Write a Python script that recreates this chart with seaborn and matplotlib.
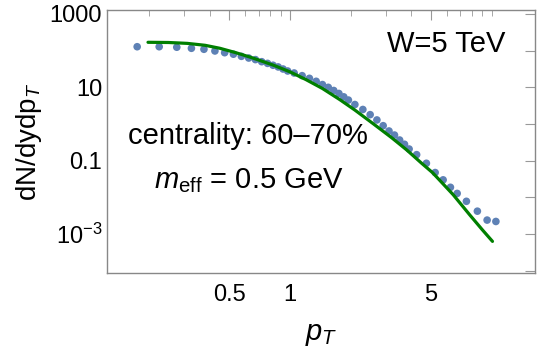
import numpy as np
import pandas as pd
import matplotlib
matplotlib.use("Agg")
import matplotlib.pyplot as plt
import matplotlib.ticker as mticker
import seaborn as sns

# data points (pT, dN/dydpT)
pt = [0.175, 0.225, 0.275, 0.325, 0.375, 0.425, 0.475, 0.525, 0.575, 0.625,
      0.675, 0.725, 0.775, 0.825, 0.875, 0.925, 0.975, 1.05, 1.15, 1.25,
      1.35, 1.45, 1.55, 1.65, 1.75, 1.85, 1.95, 2.1, 2.3, 2.5,
      2.7, 2.9, 3.1, 3.3, 3.5, 3.7, 3.9, 4.25, 4.75, 5.25,
      5.75, 6.25, 6.75, 7.5, 8.5, 9.5, 10.5]
dndpt = [128, 128, 124, 116, 109, 98, 88, 80, 70, 63,
         57, 50, 45, 40, 36, 31.6, 27.9, 24.6, 20.8, 17.6,
         14.6, 11.9, 10.0, 8.2, 6.8, 5.5, 4.5, 3.4, 2.49, 1.80,
         1.29, 0.90, 0.645, 0.50, 0.366, 0.280, 0.208, 0.146, 0.085, 0.0475,
         0.030, 0.0188, 0.0128, 0.0078, 0.0042, 0.0024, 0.0022]

# model curve
pt_fit = [0.198, 0.25, 0.31, 0.38, 0.45, 0.54, 0.65, 0.83, 1.0, 1.2,
          1.45, 1.77, 2.1, 2.6, 3.2, 3.8, 4.5, 5.1, 6.45, 7.8, 9.0, 10.1]
dn_fit = [169, 167, 158, 140, 116, 88, 64, 40, 26.5, 16.3,
          9.3, 4.6, 2.4, 1.0, 0.42, 0.195, 0.085, 0.047, 0.0118, 0.0033, 0.0013, 0.00063]

df = pd.DataFrame({"pt": pt, "dn": dndpt})
fit = pd.DataFrame({"pt": pt_fit, "dn": dn_fit})

sns.set_style("white")
plt.rcParams['font.family'] = ['Liberation Sans', 'DejaVu Sans']
plt.rcParams['mathtext.fontset'] = 'custom'
plt.rcParams['mathtext.rm'] = 'Liberation Sans'
plt.rcParams['mathtext.it'] = 'Liberation Sans:italic'
plt.rcParams['text.color'] = 'black'
plt.rcParams['axes.labelcolor'] = 'black'

fig = plt.figure(figsize=(5.42, 3.53), dpi=100)
ax = fig.add_axes([0.1974, 0.2266, 0.7896, 0.7451])

sns.scatterplot(data=df, x="pt", y="dn", ax=ax, color="#5E81B5", s=30,
                edgecolor="none", zorder=2)
sns.lineplot(data=fit, x="pt", y="dn", ax=ax, color="#007F00", lw=2.3,
             zorder=3, sort=False)

ax.set_xscale("log")
ax.set_yscale("log")
ax.set_xlim(0.124, 16.4)
ax.set_ylim(8.65e-5, 1285)

ax.xaxis.set_major_locator(mticker.FixedLocator([0.5, 1, 5]))
ax.xaxis.set_major_formatter(mticker.FixedFormatter(["0.5", "1", "5"]))
ax.xaxis.set_minor_locator(mticker.FixedLocator(
    [0.2, 0.3, 0.4, 0.6, 0.7, 0.8, 0.9, 2, 3, 4, 6, 7, 8, 9, 10]))
ax.xaxis.set_minor_formatter(mticker.NullFormatter())

yt = [1e-4, 1e-3, 1e-2, 1e-1, 1, 10, 100, 1000]
ylab = ["", "10$^{-3}$", "", "0.1", "", "10", "", "1000"]
ax.yaxis.set_major_locator(mticker.FixedLocator(yt))
ax.yaxis.set_major_formatter(mticker.FixedFormatter(ylab))
ax.yaxis.set_minor_locator(mticker.NullLocator())

ax.tick_params(which="both", direction="in", top=True, right=True,
               color="#999999", labelsize=17, labelcolor="black")
ax.tick_params(which="major", length=7, width=0.8)
ax.tick_params(which="minor", length=4, width=0.6)
ax.tick_params(axis="x", pad=8)
for s in ax.spines.values():
    s.set_color("#888888")
    s.set_linewidth(1.0)

ax.set_xlabel("$p_T$", fontsize=21, labelpad=10)
ax.set_ylabel("dN/dydp$_T$", fontsize=20, labelpad=4)

ax.text(446, 353 - 44.5, "W=5 TeV", transform=None, fontsize=21,
        ha="center", va="center")
ax.text(247.5, 353 - 136, "centrality: 60\u201370%", transform=None,
        fontsize=21, ha="center", va="center")
ax.text(249, 353 - 181, "$m_{\\mathrm{eff}}$ = 0.5 GeV", transform=None,
        fontsize=21, ha="center", va="center")

ax.grid(False)
plt.savefig("out.png", dpi=100)
